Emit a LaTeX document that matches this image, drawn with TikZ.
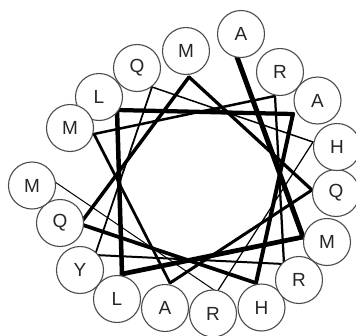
\documentclass[tikz,border=0pt]{standalone}
\usepackage{fontspec}
\setmainfont{Liberation Sans}
\begin{document}
\begin{tikzpicture}[x=1pt,y=-1pt,
  res/.style={circle,draw=black!70,fill=white,line width=1.1pt,minimum size=47pt,inner sep=0pt,
    text=black!85,font=\fontsize{19}{19}\selectfont},
  link/.style={line cap=round,line join=round,black}]
\useasboundingbox (0,0) rectangle (356,335);
\clip (0,0) rectangle (356,335);
% line vertices
\coordinate (p1) at (237,57);
\coordinate (p2) at (303,237);
\coordinate (p3) at (122,274);
\coordinate (p4) at (117,110);
\coordinate (p5) at (293,114);
\coordinate (p6) at (256,283);
\coordinate (p7) at (80,224);
\coordinate (p8) at (189,77);
\coordinate (p9) at (312,190);
\coordinate (p10) at (170,283);
\coordinate (p11) at (94,134);
\coordinate (p12) at (275,96);
\coordinate (p13) at (284,264);
\coordinate (p14) at (95,255);
\coordinate (p15) at (152,87);
\coordinate (p16) at (313,142);
\coordinate (p17) at (217,292);
\coordinate (p18) at (55,182);
% connectors, thinning along the sequence
\foreach \i [evaluate=\i as \j using int(\i+1), evaluate=\i as \w using 5-(\i-1)*0.25] in {1,...,17}
  \draw[link,line width=\w pt] (p\i) -- (p\j);
% residues
\node[res] (r1) at (241,34) {A};
\node[res] (r2) at (327,242) {M};
\node[res] (r3) at (117,299) {L};
\node[res] (r4) at (99,97) {L};
\node[res] (r5) at (317.5,100.5) {A};
\node[res] (r6) at (261.5,307.5) {H};
\node[res] (r7) at (60,223) {Q};
\node[res] (r8) at (186,51) {M};
\node[res] (r9) at (336,193) {Q};
\node[res] (r10) at (165,308) {A};
\node[res] (r11) at (70,128) {M};
\node[res] (r12) at (280,72) {R};
\node[res] (r13) at (299,280) {R};
\node[res] (r14) at (80,270) {Y};
\node[res] (r15) at (137,68) {Q};
\node[res] (r16) at (337,147) {H};
\node[res] (r17) at (213,313.5) {R};
\node[res] (r18) at (32,185.5) {M};
\end{tikzpicture}
\end{document}
